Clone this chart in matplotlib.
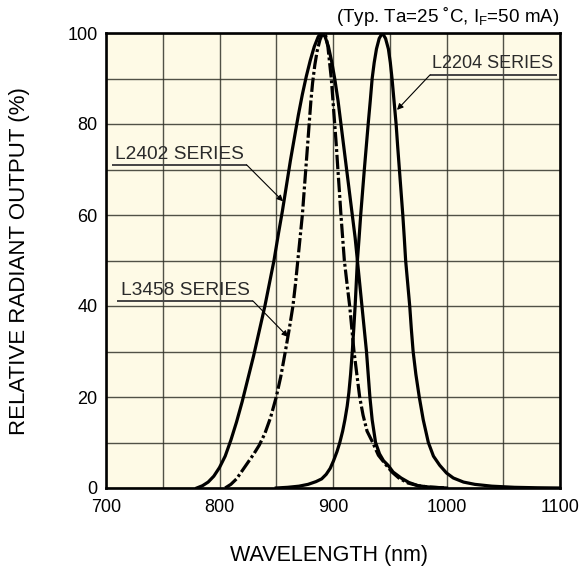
import matplotlib
matplotlib.use("Agg")
import matplotlib.pyplot as plt
from matplotlib.ticker import MultipleLocator

plt.rcParams['font.family'] = ['Liberation Sans', 'DejaVu Sans']

# ---- data ----
l2402_nm = [780, 785, 790, 795, 800, 805, 810, 815, 820, 825, 830, 835, 840, 844, 848, 852,
            855.5, 859, 862.5, 866, 869.5, 873, 876.5, 880, 883.5, 887, 890, 893, 896, 899, 901.5,
            904.5, 907, 909.5, 912, 914.5, 917, 919.5, 921.5, 923.5, 925.5, 927.5, 929.5, 931,
            932.5, 934.5, 937.5, 941, 944.5, 948.5, 953, 960, 967, 975, 985, 1000]
l2402_pct = [0, 0.5, 1.3, 2.6, 4.5, 7, 10.5, 14.5, 19, 24, 29, 34.5, 40, 45, 50, 56,
             61, 66.5, 72, 77, 82, 86.5, 90.5, 94, 97, 99.2, 100, 99.2, 97, 93.5, 90,
             85, 80, 75, 70, 65, 60, 55, 50, 45, 40, 35, 30, 25,
             20, 15, 10, 7.5, 6, 5, 3.5, 2.2, 1.2, 0.5, 0.2, 0]

l3458_nm = [805, 810, 815, 820, 825, 830, 835, 840, 845, 850, 854, 858, 861.5, 864.7,
            867, 869, 871, 873, 874.5, 876, 877.5, 879, 880.5, 882, 884, 886, 888.5, 891, 893.5,
            895.5, 897, 898.5, 900, 901.5, 903, 904.3, 905.7, 907, 908.5, 910, 912.3, 914.7, 916.6,
            918.5, 921, 923.5, 926.5, 930, 935, 940, 947, 952, 958, 966, 975, 985, 1000]
l3458_pct = [0, 0.8, 2, 3.8, 5.6, 7.4, 9.4, 12, 15.5, 20, 24.5, 30, 35, 40,
             45, 50, 55, 60, 65, 70, 75, 80, 85, 89, 93, 96, 98.5, 100, 99.5,
             97, 93.5, 90, 85, 80, 75, 70, 65, 60, 55, 50, 45, 40, 35,
             30, 25, 20, 16, 12.5, 10, 7.2, 5, 3.5, 2.2, 1.1, 0.5, 0.2, 0]

l2204_nm = [850, 860, 870, 878, 885, 890, 894, 897.5, 900.5, 903.5, 906, 908.5, 910.5, 912.5, 914,
            915.5, 917, 918.3, 919.5, 920.5, 921.5, 923, 924.4, 926, 927.6, 929.3, 931, 932.8, 934.5,
            936.3, 938.3, 940.7, 943.5, 946.3, 948.8, 950.5, 952, 953.8, 955.6, 957, 958.5, 960,
            961.5, 962.8, 964, 965.8, 967.6, 969, 970.6, 973, 976, 979.5, 984, 988.5, 994, 1000,
            1006, 1015, 1025, 1040, 1060, 1080, 1100]
l2204_pct = [0, 0.15, 0.4, 0.8, 1.4, 2, 3, 4.3, 6, 8, 10, 12.5, 15, 18, 21,
             25, 30, 35, 40, 45, 50, 55, 60, 65, 70, 75, 80, 85, 90,
             93.5, 96.5, 98.8, 100, 98.8, 96.5, 93.5, 90, 85, 80, 75, 70, 65,
             60, 55, 50, 45, 40, 35, 30, 25, 20, 15, 10, 7, 5, 3.3,
             2.2, 1.3, 0.8, 0.4, 0.15, 0.05, 0]

x_ticks = [700, 800, 900, 1000, 1100]
y_ticks = [0, 20, 40, 60, 80, 100]

# ---- figure ----
fig = plt.figure(figsize=(5.84, 5.79), dpi=100)
ax = fig.add_axes([106/584, 1-488/579, (560-106)/584, (488-33)/579])
ax.set_facecolor('#FEFAE6')

ax.set_xlim(700, 1100)
ax.set_ylim(0, 100)
ax.set_xticks(x_ticks)
ax.set_yticks(y_ticks)
ax.xaxis.set_minor_locator(MultipleLocator(50))
ax.yaxis.set_minor_locator(MultipleLocator(10))
ax.grid(True, which='both', color='#33332a', linewidth=1.0, alpha=0.85)
ax.set_axisbelow(True)
ax.tick_params(which='both', length=0, labelsize=13)
ax.tick_params(axis='x', pad=8)
ax.tick_params(axis='y', pad=6)
for s in ax.spines.values():
    s.set_linewidth(1.9)
    s.set_color('black')

lw = 2.3
ax.plot(l2402_nm, l2402_pct, color='black', lw=lw, solid_joinstyle='round', zorder=3)
ax.plot(l2204_nm, l2204_pct, color='black', lw=lw, solid_joinstyle='round', zorder=3)
ax.plot(l3458_nm, l3458_pct, color='black', lw=lw, linestyle=(0, (4.5, 0.9, 0.9, 0.9)),
        dash_capstyle='butt', zorder=3)

fig.text(329/584, 1-555/579, 'WAVELENGTH (nm)', ha='center', va='center', fontsize=15.5)
fig.text(20/584, 1-261/579, 'RELATIVE RADIANT OUTPUT (%)', ha='center', va='center',
         rotation=90, fontsize=16)

fig.text(559/584, 1-16/579, '(Typ. Ta=25 \u02daC, I$_{\\mathregular{F}}$=50 mA)', ha='right', va='center',
         fontsize=13.5)

def label(text, tx, ty, ux0, ux1, uy, tip, start_right, fs):
    ax.text(tx, ty, text, fontsize=fs, color='#2a2a2a', va='center', ha='left', zorder=5)
    ax.plot([ux0, ux1], [uy, uy], color='#444444', lw=1.4, zorder=5, solid_capstyle='butt')
    sx = ux1 if start_right else ux0
    ax.annotate('', xy=tip, xytext=(sx, uy),
                arrowprops=dict(arrowstyle='-|>', color='black', lw=0.8, mutation_scale=9,
                                shrinkA=0, shrinkB=0), zorder=6)

label('L2204 SERIES', 987, 93.4, 985.5, 1097.4, 90.8, (956.4, 83.1), False, 13)
label('L2402 SERIES', 708, 73.2, 705, 824, 71.0, (856, 63.0), True, 13.8)
label('L3458 SERIES', 713, 43.5, 709.7, 829.5, 41.1, (860.4, 33.2), True, 13.8)

fig.savefig('out.png', dpi=100)
